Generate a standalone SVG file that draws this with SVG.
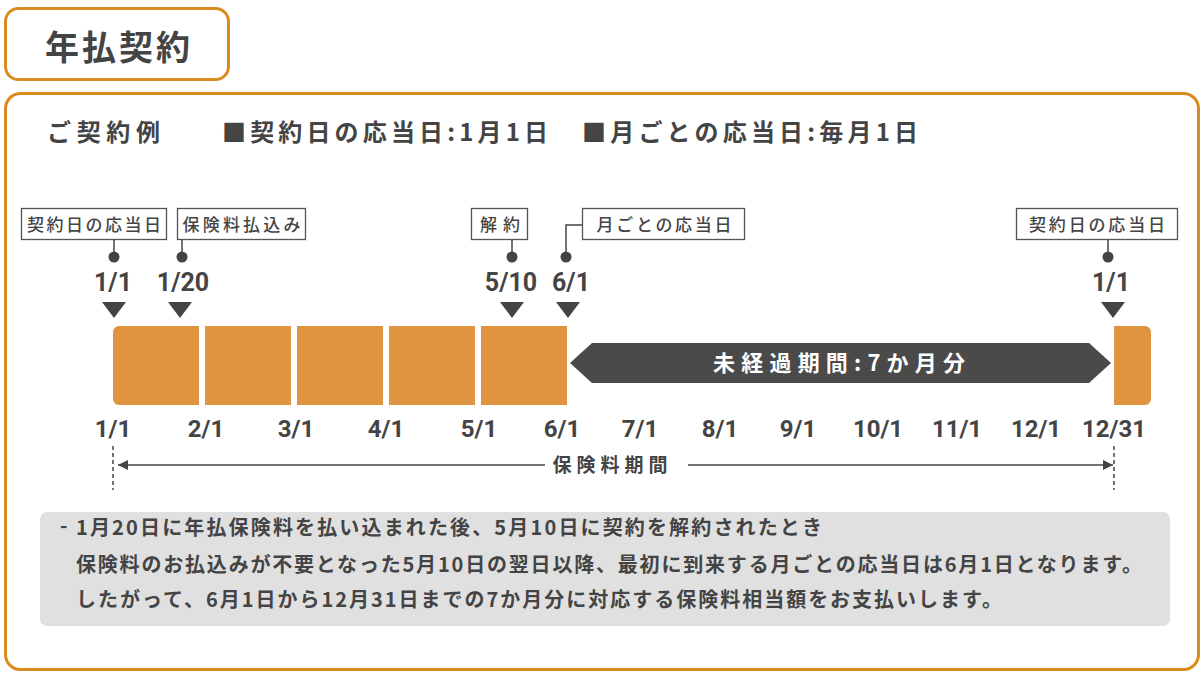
<svg xmlns="http://www.w3.org/2000/svg" width="1204" height="673" viewBox="0 0 1204 673">
<style>
text{font-family:"Noto Sans CJK JP","Noto Sans",sans-serif;fill:#444;font-weight:700}
.frame{fill:#fff;stroke:#DB8A1E;stroke-width:3}
.lbl{fill:#fff;stroke:#555;stroke-width:1.3}
.lt{font-size:17px;text-anchor:middle;font-weight:500}
.dt{font-size:25px;text-anchor:middle;font-family:"Roboto","Noto Sans",sans-serif}
.mt{font-size:24px;text-anchor:middle;font-family:"Roboto","Noto Sans",sans-serif}
.blk{fill:#E09442}
.ln{stroke:#444;stroke-width:1.5;fill:none}
.dash{stroke:#444;stroke-width:1.5;stroke-dasharray:4 3;fill:none}
.dot{fill:#444}
.tri{fill:#444}
.nt{font-size:20px}
</style>
<defs>
<marker id="ah" viewBox="0 0 10 10" refX="10" refY="5" markerWidth="10" markerHeight="10" markerUnits="userSpaceOnUse" orient="auto">
<path d="M0,0 L10,5 L0,10 Z" fill="#444"/>
</marker>
</defs>
<g id="title">
<rect class="frame" x="5.5" y="8.5" width="223" height="71" rx="13"/>
<text x="45" y="60" font-size="34" textLength="145" lengthAdjust="spacing">年払契約</text>
</g>
<g id="main-frame">
<rect class="frame" x="5.5" y="93.5" width="1193" height="576" rx="15"/>
</g>
<g id="header">
<text x="47" y="141" font-size="24" textLength="113" lengthAdjust="spacing">ご契約例</text>
<text x="222" y="141" font-size="24" textLength="326" lengthAdjust="spacing">■契約日の応当日:1月1日</text>
<text x="582" y="141" font-size="24" textLength="336" lengthAdjust="spacing">■月ごとの応当日:毎月1日</text>
</g>
<g id="connectors">
<path class="ln" d="M114,240 V257"/>
<path class="ln" d="M182,240 V257"/>
<path class="ln" d="M512,240 V257"/>
<path class="ln" d="M566,257 V225 H582"/>
<path class="ln" d="M1108,240 V257"/>
<circle class="dot" cx="114" cy="257" r="5.5"/>
<circle class="dot" cx="182" cy="257" r="5.5"/>
<circle class="dot" cx="512" cy="257" r="5.5"/>
<circle class="dot" cx="566" cy="257" r="5.5"/>
<circle class="dot" cx="1108" cy="257" r="5.5"/>
<path class="tri" d="M102,302 H126 L114,318 Z"/>
<path class="tri" d="M168,302 H192 L180,318 Z"/>
<path class="tri" d="M500,302 H524 L512,318 Z"/>
<path class="tri" d="M556,302 H580 L568,318 Z"/>
<path class="tri" d="M1101,302 H1125 L1113,318 Z"/>
<path class="dash" d="M113,446 V490"/>
<path class="dash" d="M1114,446 V490"/>
<path class="ln" d="M545,465 H118" marker-end="url(#ah)"/>
<path class="ln" d="M688,465 H1113" marker-end="url(#ah)"/>
</g>
<g id="label-keiyaku-start">
<rect class="lbl" x="21.5" y="208.5" width="145" height="31"/>
<text class="lt" x="94" y="231" textLength="134" lengthAdjust="spacing">契約日の応当日</text>
<text class="dt" x="113" y="291">1/1</text>
</g>
<g id="label-haraikomi">
<rect class="lbl" x="177.5" y="208.5" width="128" height="31"/>
<text class="lt" x="241.5" y="231" textLength="118" lengthAdjust="spacing">保険料払込み</text>
<text class="dt" x="183" y="291">1/20</text>
</g>
<g id="label-kaiyaku">
<rect class="lbl" x="471.5" y="208.5" width="56" height="31"/>
<text class="lt" x="500" y="231" textLength="40" lengthAdjust="spacing">解約</text>
<text class="dt" x="511" y="291">5/10</text>
</g>
<g id="label-tsukigoto">
<rect class="lbl" x="582.5" y="208.5" width="162" height="31"/>
<text class="lt" x="664" y="231" textLength="135" lengthAdjust="spacing">月ごとの応当日</text>
<text class="dt" x="571" y="291">6/1</text>
</g>
<g id="label-keiyaku-end">
<rect class="lbl" x="1016.5" y="208.5" width="161" height="31"/>
<text class="lt" x="1097" y="231" textLength="136" lengthAdjust="spacing">契約日の応当日</text>
<text class="dt" x="1111" y="291">1/1</text>
</g>
<g id="timeline">
<path class="blk" d="M113,332 a6,6 0 0 1 6,-6 H199 V405 H119 a6,6 0 0 1 -6,-6 Z"/>
<rect class="blk" x="205" y="326" width="86" height="79"/>
<rect class="blk" x="297" y="326" width="86" height="79"/>
<rect class="blk" x="389" y="326" width="86" height="79"/>
<rect class="blk" x="481" y="326" width="86" height="79"/>
<path class="blk" d="M1114,326 H1145 a6,6 0 0 1 6,6 V399 a6,6 0 0 1 -6,6 H1114 Z"/>
</g>
<g id="unexpired">
<path d="M570,363 L592,343 H1089 L1111,363 L1089,383 H592 Z" fill="#4A4A4A"/>
<text x="839" y="371" font-size="22" text-anchor="middle" style="fill:#fff" textLength="252" lengthAdjust="spacing">未経過期間:7か月分</text>
</g>
<g id="months">
<text class="mt" x="113" y="437">1/1</text>
<text class="mt" x="206" y="437">2/1</text>
<text class="mt" x="296" y="437">3/1</text>
<text class="mt" x="386" y="437">4/1</text>
<text class="mt" x="479" y="437">5/1</text>
<text class="mt" x="562" y="437">6/1</text>
<text class="mt" x="640" y="437">7/1</text>
<text class="mt" x="720" y="437">8/1</text>
<text class="mt" x="798" y="437">9/1</text>
<text class="mt" x="878" y="437">10/1</text>
<text class="mt" x="957" y="437">11/1</text>
<text class="mt" x="1036" y="437">12/1</text>
<text class="mt" x="1114" y="437">12/31</text>
</g>
<g id="period-label">
<text x="610" y="472" font-size="19" text-anchor="middle" textLength="115" lengthAdjust="spacing">保険料期間</text>
</g>
<g id="note">
<rect x="40" y="512" width="1130" height="114" rx="7" fill="#E0E0E0"/>
<text class="nt" x="60" y="533">-</text>
<text class="nt" x="76" y="535" textLength="746" lengthAdjust="spacing">1月20日に年払保険料を払い込まれた後、5月10日に契約を解約されたとき</text>
<text class="nt" x="76" y="572" textLength="1066" lengthAdjust="spacing">保険料のお払込みが不要となった5月10日の翌日以降、最初に到来する月ごとの応当日は6月1日となります。</text>
<text class="nt" x="76" y="607" textLength="926" lengthAdjust="spacing">したがって、6月1日から12月31日までの7か月分に対応する保険料相当額をお支払いします。</text>
</g>
</svg>
